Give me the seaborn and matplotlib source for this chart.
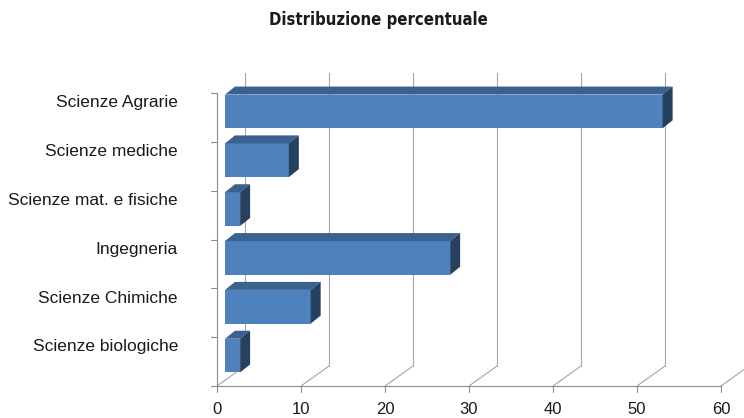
import matplotlib
matplotlib.use("Agg")
import matplotlib.pyplot as plt
from matplotlib.patches import Polygon
import seaborn as sns

categories = ["Scienze Agrarie", "Scienze mediche", "Scienze mat. e fisiche",
              "Ingegneria", "Scienze Chimiche", "Scienze biologiche"]
values = [52.1, 7.6, 1.8, 26.8, 10.2, 1.8]
xticks = [0, 10, 20, 30, 40, 50, 60]
title = "Distribuzione percentuale"

sns.set_theme(style="white")
plt.rcParams["font.family"] = ["Liberation Sans", "DejaVu Sans"]

W, H, DPI = 744, 418, 100
fig = plt.figure(figsize=(W / DPI, H / DPI), dpi=DPI)
# front plane of the "3D" box, in pixels
left_px, right_px, top_px, bot_px = 217, 721, 93, 386
ax = fig.add_axes([left_px / W, 1 - bot_px / H, (right_px - left_px) / W, (bot_px - top_px) / H])
ax.set_xlim(0, 60)
ax.set_ylim(len(categories) - 0.5, -0.5)

# pixel -> data conversions
px_x = (right_px - left_px) / 60
px_y = (bot_px - top_px) / len(categories)
def dx(p): return p / px_x
def dy(p): return -p / px_y   # upward in image

back = (dx(28), dy(20))      # back wall offset
bar_off = (dx(8), dy(6))     # bars sit a bit inside the box
bar_depth = (dx(10), dy(8))

front_c, top_c, side_c = "#4F81BD", "#3B6190", "#26405F"
grid_c, axis_c = "#A6A6A6", "#8C8C8C"
lw = 0.8
ybot = len(categories) - 0.5

# back gridlines + floor diagonals + floor ticks
for t in xticks:
    ax.plot([t + back[0], t + back[0]], [ybot + back[1], -0.5 + back[1]],
            color=grid_c, lw=lw, zorder=1, clip_on=False)
    ax.plot([t, t + back[0]], [ybot, ybot + back[1]], color=grid_c, lw=lw, zorder=1, clip_on=False)
    ax.plot([t, t], [ybot, ybot - dy(6)], color=axis_c, lw=lw, clip_on=False)
    ax.text(t, ybot - dy(23), str(t), ha="center", va="center", fontsize=12,
            color="#1a1a1a")
ax.plot([0, 60], [ybot, ybot], color=axis_c, lw=lw, clip_on=False)

# y axis with boundary ticks
ax.plot([0, 0], [-0.5, ybot], color=axis_c, lw=lw, clip_on=False)
for i in range(len(categories) + 1):
    ax.plot([0, -dx(6)], [i - 0.5, i - 0.5], color=axis_c, lw=lw, clip_on=False)

sns.barplot(x=values, y=categories, orient="h", color=front_c, saturation=1,
            width=0.69, ax=ax, zorder=3, linewidth=0, edgecolor="none")

for p in list(ax.patches):
    p.set_x(p.get_x() + bar_off[0])
    p.set_y(p.get_y() + bar_off[1])
    p.set_clip_on(False)
    x0, y0 = p.get_x(), p.get_y()
    x1, y1 = x0 + p.get_width(), y0 + p.get_height()
    ddx, ddy = bar_depth
    top = Polygon([(x0, y0), (x1, y0), (x1 + ddx, y0 + ddy), (x0 + ddx, y0 + ddy)],
                  closed=True, facecolor=top_c, edgecolor="none", zorder=3, clip_on=False)
    side = Polygon([(x1, y0), (x1 + ddx, y0 + ddy), (x1 + ddx, y1 + ddy), (x1, y1)],
                   closed=True, facecolor=side_c, edgecolor="none", zorder=3, clip_on=False)
    ax.add_patch(top)
    ax.add_patch(side)

# category labels
for i, c in enumerate(categories):
    ax.text(-dx(39), i - 0.3, c, ha="right", va="center", fontsize=12.5, color="#1a1a1a")

ax.set_xticks([])
ax.set_yticks([])
ax.set_xlabel("")
ax.set_ylabel("")
for s in ax.spines.values():
    s.set_visible(False)
ax.patch.set_alpha(0)

fig.text(378 / W, 1 - 20 / H, title, ha="center", va="center", fontsize=12,
         family="DejaVu Sans", fontstretch="condensed", fontweight="bold", color="#1a1a1a")

fig.savefig("out.png", dpi=DPI)
